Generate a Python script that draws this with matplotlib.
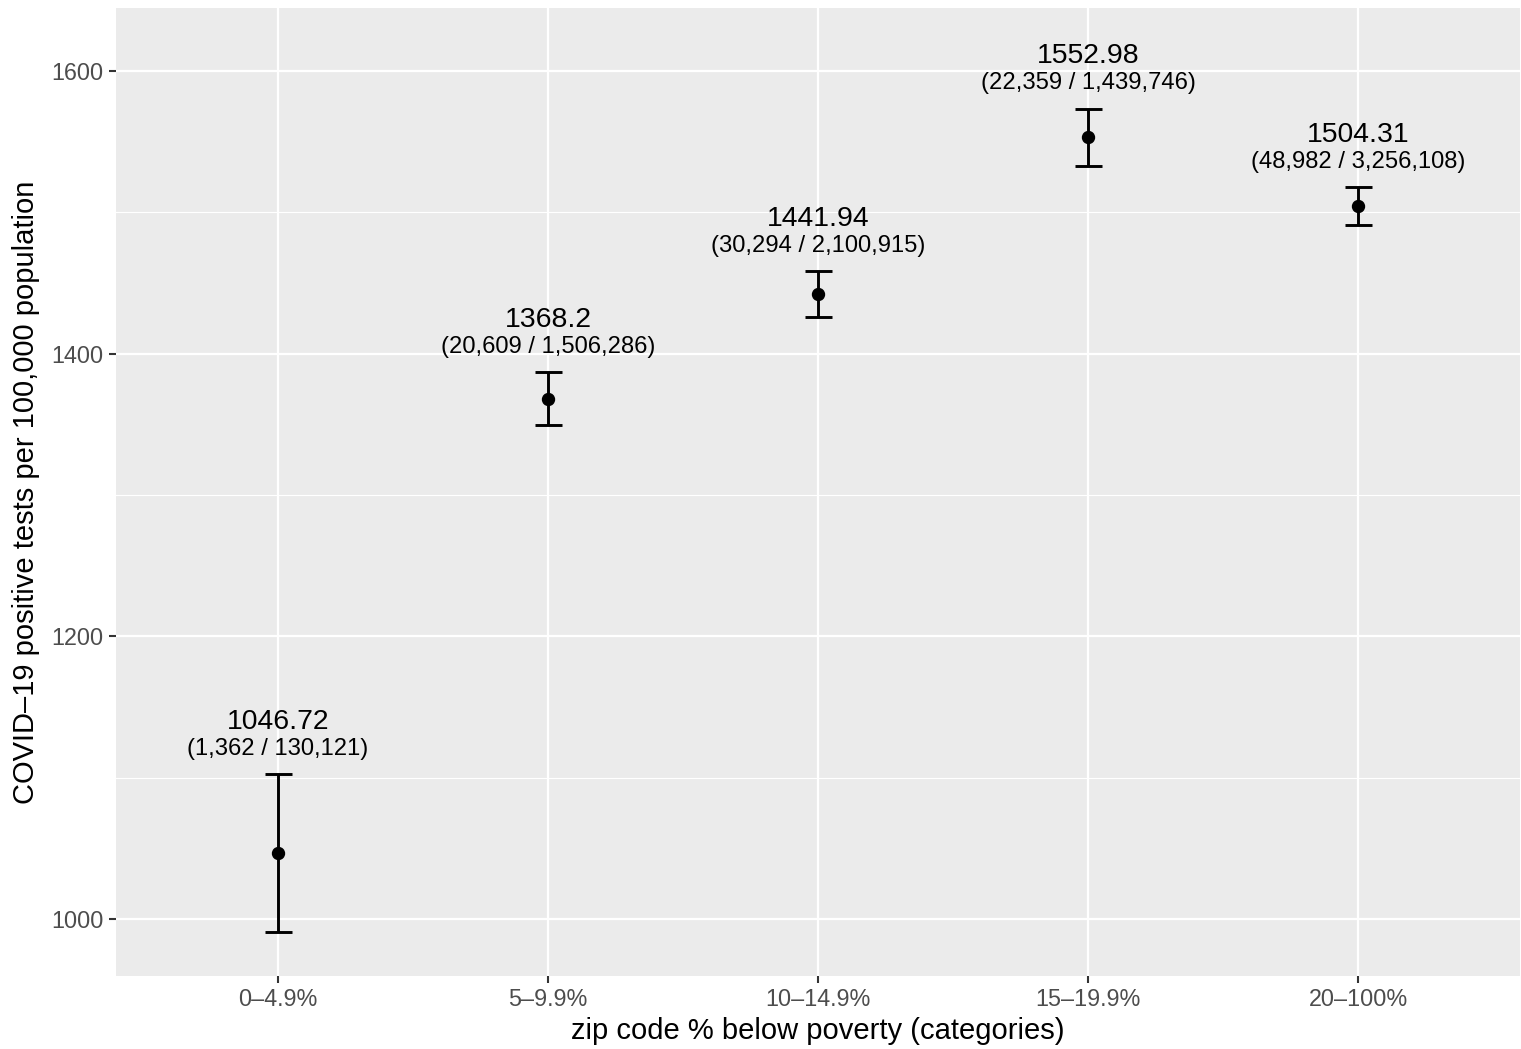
import matplotlib
matplotlib.use("Agg")
import matplotlib.pyplot as plt
from matplotlib.ticker import MultipleLocator, FixedLocator

categories = ["0–4.9%", "5–9.9%", "10–14.9%", "15–19.9%", "20–100%"]
rates = [1046.72, 1368.2, 1441.94, 1552.98, 1504.31]
cases = [1362, 20609, 30294, 22359, 48982]
populations = [130121, 1506286, 2100915, 1439746, 3256108]
lower = [991.1, 1349.5, 1425.7, 1532.6, 1491.0]
upper = [1102.3, 1386.9, 1458.2, 1573.3, 1517.6]

plt.rcParams['font.family'] = ['Liberation Sans', 'DejaVu Sans']

W, H = 1521, 1049
fig = plt.figure(figsize=(W / 100, H / 100), dpi=100)
ax = fig.add_axes([116 / W, (H - 976) / H, (1520 - 116) / W, (976 - 8) / H])
ax.set_facecolor('#EBEBEB')
for s in ax.spines.values():
    s.set_visible(False)

x = list(range(1, len(categories) + 1))
ax.set_xlim(0.4, 5.6)
ax.set_ylim(959.7, 1644.6)

ax.yaxis.set_major_locator(FixedLocator([1000, 1200, 1400, 1600]))
ax.yaxis.set_minor_locator(FixedLocator([1100, 1300, 1500]))
ax.set_xticks(x)
ax.set_xticklabels(categories)
ax.grid(which='major', color='white', linewidth=1.6)
ax.grid(which='minor', axis='y', color='white', linewidth=0.8)
ax.set_axisbelow(True)
ax.tick_params(which='major', length=5, width=1.5, color='#333333',
               labelcolor='#4D4D4D', labelsize=16.8, pad=4)
ax.tick_params(which='minor', length=0)

# error bars
cap = 0.05
for xi, lo, hi in zip(x, lower, upper):
    ax.plot([xi, xi], [lo, hi], color='black', linewidth=2.1, solid_capstyle='butt', zorder=3)
    ax.plot([xi - cap, xi + cap], [lo, lo], color='black', linewidth=2.1, solid_capstyle='butt', zorder=3)
    ax.plot([xi - cap, xi + cap], [hi, hi], color='black', linewidth=2.1, solid_capstyle='butt', zorder=3)
ax.plot(x, rates, 'o', color='black', markersize=8.6, zorder=4)

for xi, r, c, p, hi in zip(x, rates, cases, populations, upper):
    ax.annotate(f"{r:g}", (xi, hi), xytext=(0, 32.6), textcoords='offset points',
                ha='center', va='baseline', fontsize=20.4, color='black')
    ax.annotate(f"({c:,} / {p:,})", (xi, hi), xytext=(0, 14), textcoords='offset points',
                ha='center', va='baseline', fontsize=17.1, color='black')

ax.set_xlabel("zip code % below poverty (categories)", fontsize=21, color='black', labelpad=4)
ax.set_ylabel("COVID–19 positive tests per 100,000 population", fontsize=21, color='black', labelpad=8)

fig.savefig("out.png", dpi=100)
